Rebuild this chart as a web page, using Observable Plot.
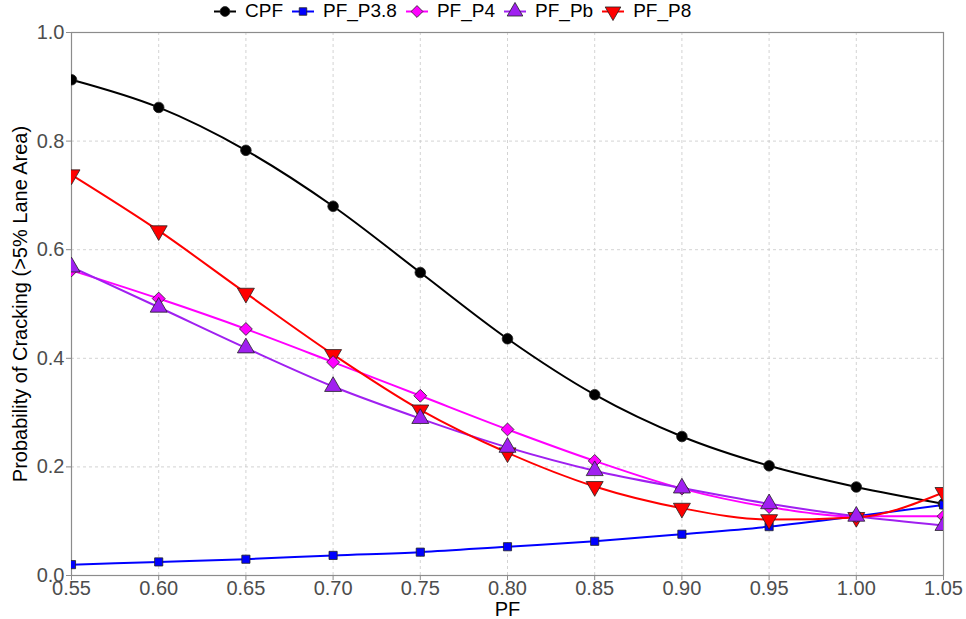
<!DOCTYPE html>
<html>
<head>
<meta charset="utf-8">
<script src="https://cdn.jsdelivr.net/npm/d3@7"></script>
<script src="https://cdn.jsdelivr.net/npm/@observablehq/plot@0.6"></script>
<style>
  html, body { margin: 0; padding: 0; background: #fff; }
  body { width: 966px; height: 619px; overflow: hidden; font-family: "Liberation Sans", Arial, sans-serif; }
  #legend { height: 20px; line-height: 20px; display: flex; align-items: center; padding-left: 213px; padding-top: 1px; font-size: 19px; color: #000; }
  #legend .item { display: flex; align-items: center; margin-right: 8px; }
  #legend svg { margin-right: 8px; }
  #chart g[aria-label$="tick label"] { font-size: 20px !important; }
</style>
</head>
<body>
<div id="legend"></div>
<div id="chart"></div>
<script>
// ---- data ----
const pf = [0.55, 0.60, 0.65, 0.70, 0.75, 0.80, 0.85, 0.90, 0.95, 1.00, 1.05];
const CPF     = [0.913, 0.862, 0.783, 0.680, 0.558, 0.436, 0.333, 0.256, 0.202, 0.163, 0.132];
const PF_P3_8 = [0.020, 0.025, 0.030, 0.037, 0.043, 0.053, 0.063, 0.076, 0.090, 0.109, 0.130];
const PF_P4   = [0.562, 0.510, 0.454, 0.393, 0.331, 0.269, 0.211, 0.160, 0.126, 0.109, 0.109];
const PF_Pb   = [0.568, 0.494, 0.419, 0.348, 0.289, 0.236, 0.193, 0.161, 0.132, 0.109, 0.092];
const PF_P8   = [0.738, 0.635, 0.520, 0.407, 0.305, 0.226, 0.164, 0.124, 0.103, 0.107, 0.153];
const seriesNames = ["CPF", "PF_P3.8", "PF_P4", "PF_Pb", "PF_P8"];
const seriesValues = [CPF, PF_P3_8, PF_P4, PF_Pb, PF_P8];
const seriesColors = ["#000000", "#0000FF", "#FF00FF", "#A020F0", "#FF0000"];
const yTicks = [0, 0.2, 0.4, 0.6, 0.8, 1.0];
const xTitle = "PF";
const yTitle = "Probability of Cracking (>5% Lane Area)";

// custom inverted triangle symbol
const triangleDown = {
  draw(context, size) {
    const y = -Math.sqrt(size / (Math.sqrt(3) * 3));
    context.moveTo(0, -y * 2);
    context.lineTo(-Math.sqrt(3) * y, y);
    context.lineTo(Math.sqrt(3) * y, y);
    context.closePath();
  }
};
const seriesSymbols = ["circle", "square", "diamond2", "triangle", triangleDown];
const seriesR = [5.3, 4.6, 5.8, 6.3, 6.3];

const data = [];
seriesNames.forEach((name, i) => {
  pf.forEach((x, j) => data.push({series: name, pf: x, p: seriesValues[i][j]}));
});

// ---- legend ----
const legend = document.getElementById("legend");
const ns = "http://www.w3.org/2000/svg";
seriesNames.forEach((name, i) => {
  const item = document.createElement("div");
  item.className = "item";
  const svg = document.createElementNS(ns, "svg");
  svg.setAttribute("width", 24); svg.setAttribute("height", 19);
  const line = document.createElementNS(ns, "line");
  line.setAttribute("x1", 1); line.setAttribute("x2", 23);
  line.setAttribute("y1", 9.5); line.setAttribute("y2", 9.5);
  line.setAttribute("stroke", seriesColors[i]); line.setAttribute("stroke-width", 2);
  svg.appendChild(line);
  const path = document.createElementNS(ns, "path");
  const sym = typeof seriesSymbols[i] === "string"
    ? ({circle: d3.symbolCircle, square: d3.symbolSquare, diamond2: d3.symbolDiamond2, triangle: d3.symbolTriangle})[seriesSymbols[i]]
    : seriesSymbols[i];
  const sz = Math.PI * seriesR[i] * seriesR[i] * 0.85;
  path.setAttribute("d", d3.symbol(sym, sz)());
  path.setAttribute("transform", "translate(12,9.5)");
  path.setAttribute("fill", seriesColors[i]);
  path.setAttribute("stroke", "#222");
  path.setAttribute("stroke-width", 0.8);
  svg.appendChild(path);
  item.appendChild(svg);
  const span = document.createElement("span");
  span.textContent = name;
  item.appendChild(span);
  legend.appendChild(item);
});

// ---- chart ----
const lineMarks = seriesNames.map((name, i) =>
  Plot.line(data.filter(d => d.series === name), {
    x: "pf", y: "p", stroke: seriesColors[i], strokeWidth: 2, curve: "monotone-x", clip: true
  })
);
const drawOrder = [0, 1, 4, 2, 3];
const dotMarks = drawOrder.map(i =>
  Plot.dot(data.filter(d => d.series === seriesNames[i]), {
    x: "pf", y: "p", symbol: () => seriesSymbols[i], r: seriesR[i],
    fill: seriesColors[i], stroke: "#222", strokeWidth: 0.8, clip: true
  })
);

const chart = Plot.plot({
  width: 966,
  height: 598,
  marginTop: 11,
  marginLeft: 71,
  marginRight: 23,
  marginBottom: 44,
  style: { fontFamily: "Liberation Sans, Arial, sans-serif", fontSize: "20px", background: "#fff" },
  symbol: { type: "identity" },
  x: { domain: [0.55, 1.05], label: null },
  y: { domain: [0, 1], label: null },
  marks: [
    Plot.gridX(pf, { stroke: "#c8c8c8", strokeOpacity: 1, strokeDasharray: "3,3", strokeWidth: 0.8 }),
    Plot.gridY(yTicks, { stroke: "#c8c8c8", strokeOpacity: 1, strokeDasharray: "3,3", strokeWidth: 0.8 }),
    Plot.frame({ stroke: "#8c8c8c", strokeWidth: 1.2 }),
    ...lineMarks,
    ...dotMarks,
    Plot.axisX(pf, {
      tickFormat: d3.format(".2f"), tickSize: 5, tickPadding: 0, stroke: "#8c8c8c",
      fill: "#4d4d4d", fontSize: 20, label: null
    }),
    Plot.axisY(yTicks, {
      tickFormat: d3.format(".1f"), tickSize: 5, tickPadding: 2, stroke: "#8c8c8c",
      fill: "#4d4d4d", fontSize: 20, label: null
    }),
    Plot.text([xTitle], { frameAnchor: "bottom", lineAnchor: "middle", dy: 34, fontSize: 20, fill: "#000" }),
    Plot.text([yTitle], { frameAnchor: "left", textAnchor: "middle", lineAnchor: "middle", rotate: -90, dx: -51, fontSize: 20, fill: "#000" })
  ]
});
document.getElementById("chart").appendChild(chart);
</script>
</body>
</html>
